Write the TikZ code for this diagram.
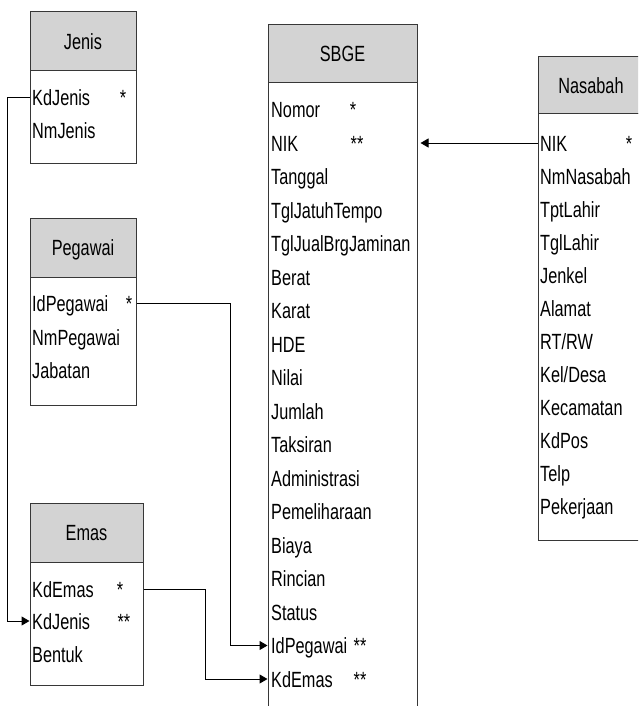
\documentclass[tikz,border=0pt]{standalone}
\usepackage{fontspec}
\setmainfont{Liberation Sans}[FakeStretch=0.74]
\usepackage{tikz}
\usetikzlibrary{arrows.meta}
\definecolor{headgray}{RGB}{211,211,211}
\definecolor{linegray}{RGB}{55,55,55}
\tikzset{
  tblhead/.style={rectangle, draw=linegray, fill=headgray, line width=1pt, inner sep=0pt, text height=16pt, text depth=0pt},
  tblbody/.style={rectangle, draw=linegray, fill=white, line width=1pt, inner sep=0pt},
  fld/.style={anchor=base west, inner sep=0pt, text height=16pt, text depth=0pt, yshift=-1pt},
  keymark/.style={anchor=base, inner sep=0pt, yshift=-1pt},
  fk/.style={draw=black, line width=1pt, -{Triangle[length=8pt,width=9pt]}}
}

\begin{document}
\begin{tikzpicture}[x=1pt, y=-1pt, font=\fontsize{22}{26}\selectfont]
\clip (0,0) rectangle (638,706);
\fill[white] (0,0) rectangle (638,706);

% Jenis table
\node[tblhead, minimum width=106pt, minimum height=59pt] (jenis) at (83,41.5) {Jenis};
\node[tblbody, minimum width=106pt, minimum height=92pt] (jenisb) at (83,117) {};
\node[fld] (jenis-kd) at (32,104.5) {KdJenis};
\node[fld] (jenis-nm) at (32,138) {NmJenis};
\node[keymark] (jenis-pk) at (123,104.5) {*};

% Pegawai table
\node[tblhead, minimum width=106pt, minimum height=59pt] (peg) at (83,247.5) {Pegawai};
\node[tblbody, minimum width=106pt, minimum height=128pt] (pegb) at (83,341) {};
\node[fld] (peg-id) at (32,310.5) {IdPegawai};
\node[fld] (peg-nm) at (32,344) {NmPegawai};
\node[fld] (peg-jab) at (32,377.5) {Jabatan};
\node[keymark] (peg-pk) at (129,310.5) {*};

% Emas table
\node[tblhead, minimum width=113pt, minimum height=59pt] (emas) at (86.5,532.5) {Emas};
\node[tblbody, minimum width=113pt, minimum height=123pt] (emasb) at (86.5,623.5) {};
\node[fld] (emas-kdemas) at (32,596) {KdEmas};
\node[fld] (emas-kdjenis) at (32,628) {KdJenis};
\node[fld] (emas-bentuk) at (32,661) {Bentuk};
\node[keymark] (emas-pk) at (120,596) {*};
\node[keymark] (emas-fk) at (124,628) {**};

% SBGE table
\node[tblhead, minimum width=149pt, minimum height=58pt] (sbge) at (342.5,54) {SBGE};
\node[tblbody, minimum width=149pt, minimum height=637pt] (sbgeb) at (342.5,401.5) {};
\node[fld] (sbge-nomor) at (271,116.5) {Nomor};
\node[fld] (sbge-nik) at (271,150) {NIK};
\node[fld] (sbge-tgl) at (271,183.5) {Tanggal};
\node[fld] (sbge-tgljt) at (271,217) {TglJatuhTempo};
\node[fld] (sbge-tgljual) at (271,250.5) {TglJualBrgJaminan};
\node[fld] (sbge-berat) at (271,284) {Berat};
\node[fld] (sbge-karat) at (271,317.5) {Karat};
\node[fld] (sbge-hde) at (271,351) {HDE};
\node[fld] (sbge-nilai) at (271,384.5) {Nilai};
\node[fld] (sbge-jumlah) at (271,418) {Jumlah};
\node[fld] (sbge-taksiran) at (271,451.5) {Taksiran};
\node[fld] (sbge-adm) at (271,485) {Administrasi};
\node[fld] (sbge-pemel) at (271,518.5) {Pemeliharaan};
\node[fld] (sbge-biaya) at (271,552) {Biaya};
\node[fld] (sbge-rincian) at (271,585.5) {Rincian};
\node[fld] (sbge-status) at (271,619) {Status};
\node[fld] (sbge-idpeg) at (271,652.5) {IdPegawai};
\node[fld] (sbge-kdemas) at (271,686) {KdEmas};
\node[keymark] (sbge-pk) at (353,116.5) {*};
\node[keymark] (sbge-fk1) at (357,150) {**};
\node[keymark] (sbge-fk2) at (360,652.5) {**};
\node[keymark] (sbge-fk3) at (360,686) {**};

% Nasabah table
\node[tblhead, minimum width=106pt, minimum height=57pt] (nas) at (591,85.5) {Nasabah};
\node[tblbody, minimum width=106pt, minimum height=426pt] (nasb) at (591,327) {};
\node[fld] (nas-nik) at (540,150) {NIK};
\node[fld] (nas-nm) at (540,183) {NmNasabah};
\node[fld] (nas-tpt) at (540,216) {TptLahir};
\node[fld] (nas-tgl) at (540,249) {TglLahir};
\node[fld] (nas-jenkel) at (540,282) {Jenkel};
\node[fld] (nas-alamat) at (540,315) {Alamat};
\node[fld] (nas-rtrw) at (540,348) {RT/RW};
\node[fld] (nas-kel) at (540,381) {Kel/Desa};
\node[fld] (nas-kec) at (540,414) {Kecamatan};
\node[fld] (nas-kdpos) at (540,447) {KdPos};
\node[fld] (nas-telp) at (540,480) {Telp};
\node[fld] (nas-kerja) at (540,513) {Pekerjaan};
\node[keymark] (nas-pk) at (629,150) {*};

% Relations
\draw[fk] (jenisb.west |- jenis-kd) -- ++(-22,0) |- (emasb.west |- emas-kdjenis);
\draw[fk] (pegb.east |- peg-id) -- ++(94,0) |- (sbgeb.west |- sbge-idpeg);
\draw[fk] (emasb.east |- emas-kdemas) -- ++(62,0) |- (sbgeb.west |- sbge-kdemas);
\draw[fk, shorten >=3pt] (nasb.west |- nas-nik) -- (sbgeb.east |- sbge-nik);
\end{tikzpicture}
\end{document}
